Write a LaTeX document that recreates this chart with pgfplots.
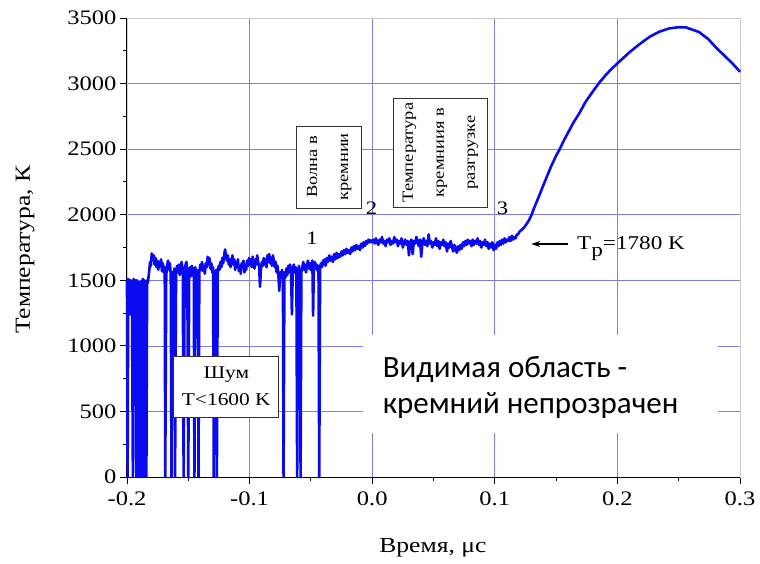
\documentclass[border=0pt]{standalone}
\usepackage{pgfplots}
\pgfplotsset{compat=1.18}
\usepackage{fontspec}
\setmainfont{Liberation Serif}[FakeStretch=1.19]
\newfontfamily\calibri{Carlito}
\usetikzlibrary{arrows.meta}

\definecolor{gridblue}{RGB}{125,125,228}
\definecolor{curveblue}{RGB}{10,10,240}

\begin{document}
\begin{tikzpicture}
  % T(t) for Si under shock: noise before the wave, plateau, then heating
  \begin{axis}[
      width=613pt, height=459pt, scale only axis,
      at={(0,0)}, anchor=south west,
      xmin=-0.2, xmax=0.3, ymin=0, ymax=3500,
      xtick={-0.2,-0.1,0,0.1,0.2,0.3},
      ytick={0,500,...,3500},
      minor x tick num=1, minor y tick num=1,
      xtick pos=bottom, ytick pos=left,
      tick align=outside,
      major tick length=7pt, minor tick length=4pt,
      every tick/.style={black, line width=0.9pt},
      grid=major,
      major grid style={gridblue, line width=0.7pt},
      axis line style={gray!40, line width=0.8pt},
      x tick label style={yshift=-4pt, /pgf/number format/.cd, fixed, fixed zerofill, precision=1},
      y tick label style={/pgf/number format/.cd, 1000 sep={}},
      /pgf/number format/assume math mode=true,
      tick label style={font=\fontsize{20.6}{24}\selectfont},
      label style={font=\fontsize{21.5}{24}\selectfont},
      xlabel={Время, μс},
      ylabel={Температура, К},
      x label style={at={(axis description cs:0.499,-0.155)}, anchor=center},
      y label style={at={(axis description cs:-0.166,0.495)}, anchor=center, rotate=0},
      clip=false,
    ]
    \draw[black, line width=1pt] (rel axis cs:0,1) -- (rel axis cs:0,0) -- (rel axis cs:1,0);

    \addplot[curveblue, line width=2.6pt, line join=round] coordinates {
      (-0.2000,1500) (-0.1995,0) (-0.1990,1510) (-0.1980,1480) (-0.1975,1240)
      (-0.1970,1500) (-0.1960,1490) (-0.1952,0) (-0.1946,1510) (-0.1938,1470)
      (-0.1930,1500) (-0.1924,0) (-0.1918,1500) (-0.1908,1460) (-0.1900,0)
      (-0.1894,1490) (-0.1886,0) (-0.1880,1480) (-0.1870,1510) (-0.1864,0)
      (-0.1858,1500) (-0.1848,1450) (-0.1842,0) (-0.1836,1500) (-0.1830,1480)
      (-0.1820,1560) (-0.1812,1640) (-0.1805,1610) (-0.1798,1705) (-0.1790,1660)
      (-0.1782,1690) (-0.1775,1620) (-0.1768,1670) (-0.1760,1600) (-0.1752,1650)
      (-0.1745,1580) (-0.1738,1640) (-0.1730,1610) (-0.1722,1660) (-0.1715,1570)
      (-0.1708,1630) (-0.1700,1560) (-0.1692,1600) (-0.1688,0) (-0.1680,1540)
      (-0.1672,1620) (-0.1665,1650) (-0.1658,1580) (-0.1650,1630) (-0.1643,1540)
      (-0.1637,0) (-0.1630,1560) (-0.1622,1520) (-0.1615,1590) (-0.1608,0)
      (-0.1600,1540) (-0.1592,1610) (-0.1585,1560) (-0.1577,1620) (-0.1570,1540)
      (-0.1562,1600) (-0.1555,1640) (-0.1545,1580) (-0.1538,0) (-0.1530,1560)
      (-0.1522,1620) (-0.1515,1640) (-0.1508,1570) (-0.1500,0) (-0.1493,1550)
      (-0.1485,1600) (-0.1478,1530) (-0.1470,1610) (-0.1462,1560) (-0.1455,1580)
      (-0.1450,0) (-0.1443,1600) (-0.1436,1540) (-0.1430,1580) (-0.1422,1520)
      (-0.1417,0) (-0.1410,1560) (-0.1402,1620) (-0.1395,1580) (-0.1388,1640)
      (-0.1380,1570) (-0.1372,1610) (-0.1365,1550) (-0.1358,1630) (-0.1350,1600)
      (-0.1342,1680) (-0.1335,1620) (-0.1328,1670) (-0.1320,1590) (-0.1312,1630)
      (-0.1305,1560) (-0.1298,1600) (-0.1292,0) (-0.1285,1570) (-0.1278,1530)
      (-0.1272,1580) (-0.1267,0) (-0.1260,1560) (-0.1252,1610) (-0.1245,1580)
      (-0.1238,1640) (-0.1230,1600) (-0.1222,1670) (-0.1215,1630) (-0.1208,1690)
      (-0.1200,1735) (-0.1192,1680) (-0.1185,1650) (-0.1178,1690) (-0.1170,1620)
      (-0.1162,1660) (-0.1155,1600) (-0.1148,1650) (-0.1140,1690) (-0.1132,1620)
      (-0.1125,1660) (-0.1118,1580) (-0.1110,1640) (-0.1102,1600) (-0.1095,1660)
      (-0.1088,1570) (-0.1080,1610) (-0.1072,1550) (-0.1065,1630) (-0.1058,1600)
      (-0.1050,1650) (-0.1042,1560) (-0.1035,1620) (-0.1028,1580) (-0.1020,1650)
      (-0.1012,1610) (-0.1005,1670) (-0.0998,1620) (-0.0990,1660) (-0.0982,1600)
      (-0.0975,1680) (-0.0968,1630) (-0.0960,1590) (-0.0952,1660) (-0.0945,1620)
      (-0.0938,1690) (-0.0930,1640) (-0.0922,1600) (-0.0915,1450) (-0.0908,1580)
      (-0.0900,1640) (-0.0892,1610) (-0.0885,1670) (-0.0878,1620) (-0.0870,1660)
      (-0.0862,1600) (-0.0855,1690) (-0.0848,1640) (-0.0840,1700) (-0.0832,1630)
      (-0.0825,1670) (-0.0818,1610) (-0.0810,1690) (-0.0802,1650) (-0.0795,1600)
      (-0.0788,1640) (-0.0780,1560) (-0.0772,1610) (-0.0765,1540) (-0.0758,1420)
      (-0.0750,1560) (-0.0742,1520) (-0.0735,1580) (-0.0728,1500) (-0.0723,0)
      (-0.0716,1560) (-0.0708,1520) (-0.0700,1590) (-0.0692,1540) (-0.0685,1610)
      (-0.0678,1560) (-0.0670,1620) (-0.0662,1580) (-0.0655,1240) (-0.0648,1570)
      (-0.0640,1620) (-0.0632,1560) (-0.0625,1600) (-0.0618,1540) (-0.0612,0)
      (-0.0605,1570) (-0.0598,1610) (-0.0590,1550) (-0.0584,0) (-0.0578,1560)
      (-0.0570,1600) (-0.0562,1640) (-0.0555,1580) (-0.0548,1620) (-0.0540,1560)
      (-0.0532,1610) (-0.0525,1650) (-0.0518,1590) (-0.0510,1630) (-0.0502,1580)
      (-0.0495,1620) (-0.0488,1650) (-0.0482,1230) (-0.0476,1600) (-0.0468,1640)
      (-0.0460,1590) (-0.0452,1620) (-0.0445,1570) (-0.0438,1610) (-0.0432,0)
      (-0.0425,1590) (-0.0418,1630) (-0.0410,1600) (-0.0402,1650) (-0.0395,1620)
      (-0.0388,1660) (-0.0380,1610) (-0.0370,1670) (-0.0360,1640) (-0.0350,1690)
      (-0.0340,1650) (-0.0330,1680) (-0.0320,1640) (-0.0310,1700) (-0.0300,1660)
      (-0.0290,1710) (-0.0280,1670) (-0.0270,1700) (-0.0260,1680) (-0.0250,1720)
      (-0.0240,1690) (-0.0230,1730) (-0.0220,1700) (-0.0210,1740) (-0.0200,1710)
      (-0.0190,1730) (-0.0180,1700) (-0.0170,1750) (-0.0160,1720) (-0.0150,1760)
      (-0.0140,1730) (-0.0130,1770) (-0.0120,1740) (-0.0110,1760) (-0.0100,1730)
      (-0.0090,1780) (-0.0080,1750) (-0.0070,1790) (-0.0060,1760) (-0.0050,1800)
      (-0.0040,1780) (-0.0030,1810) (-0.0020,1790) (-0.0010,1805) (0.0000,1790)
      (0.001,1810) (0.002,1780) (0.003,1820) (0.004,1790) (0.005,1770)
      (0.006,1810) (0.007,1790) (0.008,1830) (0.009,1780) (0.010,1800)
      (0.011,1760) (0.012,1810) (0.013,1790) (0.014,1820) (0.015,1770)
      (0.016,1800) (0.017,1780) (0.018,1830) (0.019,1790) (0.020,1810)
      (0.021,1760) (0.022,1800) (0.023,1780) (0.024,1820) (0.025,1750)
      (0.026,1790) (0.027,1810) (0.028,1770) (0.029,1800) (0.030,1690)
      (0.031,1790) (0.032,1810) (0.033,1700) (0.034,1800) (0.035,1780)
      (0.036,1830) (0.037,1790) (0.038,1760) (0.039,1810) (0.040,1680)
      (0.041,1790) (0.042,1820) (0.043,1770) (0.044,1800) (0.045,1760)
      (0.046,1850) (0.047,1780) (0.048,1800) (0.049,1750) (0.050,1790)
      (0.051,1770) (0.052,1820) (0.053,1760) (0.054,1800) (0.055,1740)
      (0.056,1790) (0.057,1770) (0.058,1810) (0.059,1760) (0.060,1790)
      (0.061,1720) (0.062,1780) (0.063,1750) (0.064,1800) (0.065,1760)
      (0.066,1720) (0.067,1770) (0.068,1740) (0.069,1710) (0.070,1760)
      (0.071,1730) (0.072,1770) (0.073,1740) (0.074,1790) (0.075,1760)
      (0.076,1800) (0.077,1770) (0.078,1810) (0.079,1780) (0.080,1800)
      (0.081,1760) (0.082,1810) (0.083,1770) (0.084,1800) (0.085,1780)
      (0.086,1820) (0.087,1770) (0.088,1800) (0.089,1750) (0.090,1790)
      (0.091,1770) (0.092,1810) (0.093,1760) (0.094,1790) (0.095,1740)
      (0.096,1780) (0.097,1750) (0.098,1790) (0.099,1730) (0.100,1770)
      (0.101,1740) (0.102,1790) (0.103,1760) (0.104,1800) (0.105,1770)
      (0.106,1810) (0.107,1780) (0.108,1820) (0.109,1790) (0.110,1810)
      (0.111,1800) (0.112,1830) (0.113,1800) (0.114,1840) (0.115,1810)
      (0.116,1830) (0.117,1820) (0.118,1850) (0.119,1850) (0.120,1870)
      (0.122,1885) (0.124,1905) (0.126,1930) (0.128,1960) (0.130,2000)
      (0.132,2050) (0.134,2095) (0.136,2140) (0.139,2211) (0.142,2280)
      (0.146,2370) (0.150,2450) (0.1526,2493) (0.156,2560) (0.160,2630)
      (0.164,2700) (0.169,2775) (0.174,2860) (0.180,2940) (0.185,3004)
      (0.190,3060) (0.195,3110) (0.203,3180) (0.210,3240) (0.218,3300)
      (0.226,3355) (0.234,3395) (0.242,3420) (0.250,3430) (0.256,3428)
      (0.2666,3393) (0.274,3340) (0.280,3279) (0.287,3215) (0.2935,3157)
      (0.300,3090)
    };

    % white panel with the comment on the right
    \fill[white] (axis cs:-0.0075,335) rectangle (axis cs:0.282,1083);
    \node[anchor=base west, inner sep=0pt, font=\calibri\fontsize{31}{36}\selectfont]
      at (axis cs:0.0085,762) {Видимая область -};
    \node[anchor=base west, inner sep=0pt, font=\calibri\fontsize{31}{36}\selectfont]
      at (axis cs:0.0085,488) {кремний непрозрачен};

    % framed notes
    \node[draw=black!80, line width=0.9pt, fill=white, rotate=90, align=center,
      minimum width=82pt, minimum height=65pt, inner sep=2pt,
      font=\fontsize{15.5}{31}\selectfont]
      at (axis cs:-0.0351,2364) {Волна в\\кремнии};
    \node[draw=black!80, line width=0.9pt, fill=white, rotate=90, align=center,
      minimum width=109pt, minimum height=94pt, inner sep=2pt,
      font=\fontsize{15.5}{31}\selectfont]
      at (axis cs:0.0557,2474) {Температура\\кремниия в\\разгрузке};
    \node[draw=black!80, line width=0.9pt, fill=white, align=center,
      minimum width=105pt, minimum height=61pt, inner sep=2pt,
      font=\fontsize{18}{27}\selectfont]
      at (axis cs:-0.119,690) {Шум\\T<1600 K};

    \node[font=\fontsize{19}{24}\selectfont] at (axis cs:-0.049,1822) {1};
    \node[font=\fontsize{19}{24}\selectfont] at (axis cs:-0.0005,2051) {2};
    \node[font=\fontsize{19}{24}\selectfont] at (axis cs:0.1062,2051) {3};

    \draw[-{Stealth[length=9pt,width=6pt]}, line width=1.3pt]
      (axis cs:0.160,1777) -- (axis cs:0.1298,1777);
    \node[anchor=base west, inner sep=0pt, font=\fontsize{19.5}{24}\selectfont]
      at (axis cs:0.167,1738) {T\raisebox{-7pt}{p}=1780 K};
  \end{axis}
  \pgfresetboundingbox
  \path[use as bounding box] (-127pt,-86pt) rectangle (633pt,477pt);
\end{tikzpicture}
\end{document}
